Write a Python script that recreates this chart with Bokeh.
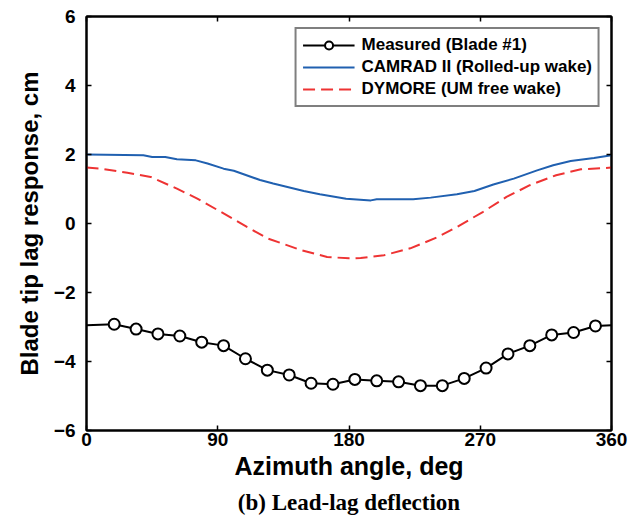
from bokeh.plotting import figure
from bokeh.models import (LinearAxis, FixedTicker, Range1d, Title, Legend, LegendItem,
                          CustomJSTickFormatter)
from bokeh.embed import file_html
from bokeh.resources import INLINE

# Measured (Blade #1)
meas_line_x = [0, 19, 34, 49, 64, 79, 94, 109, 124, 139, 154, 169, 184, 199, 214, 229, 244, 259, 274, 289, 304, 319, 334, 349, 360]
meas_line_y = [-2.95, -2.92, -3.06, -3.20, -3.26, -3.44, -3.54, -3.92, -4.25, -4.39, -4.63, -4.66, -4.52, -4.56, -4.59, -4.70, -4.70, -4.49, -4.19, -3.78, -3.54, -3.23, -3.16, -2.97, -2.95]
meas_x = [19, 34, 49, 64, 79, 94, 109, 124, 139, 154, 169, 184, 199, 214, 229, 244, 259, 274, 289, 304, 319, 334, 349]
meas_y = [-2.92, -3.06, -3.20, -3.26, -3.44, -3.54, -3.92, -4.25, -4.39, -4.63, -4.66, -4.52, -4.56, -4.59, -4.70, -4.70, -4.49, -4.19, -3.78, -3.54, -3.23, -3.16, -2.97]

# CAMRAD II (Rolled-up wake)
cam_x = [0, 39, 45, 54, 62, 75, 83, 94, 101, 119, 128, 149, 160, 178, 195, 199, 224, 236, 254, 266, 279, 293, 309, 320, 332, 348, 360]
cam_y = [2.0, 1.98, 1.93, 1.93, 1.86, 1.83, 1.74, 1.59, 1.53, 1.26, 1.16, 0.94, 0.85, 0.72, 0.67, 0.70, 0.70, 0.75, 0.85, 0.94, 1.13, 1.30, 1.54, 1.69, 1.81, 1.90, 1.98]

# DYMORE (UM free wake)
dym_x = [0, 10, 28, 44, 62, 76, 92, 110, 124, 147, 165, 180, 188, 204, 222, 240, 254, 272, 288, 304, 322, 339, 360]
dym_y = [1.62, 1.59, 1.47, 1.35, 1.01, 0.72, 0.34, -0.10, -0.43, -0.77, -0.97, -1.01, -1.00, -0.92, -0.72, -0.41, -0.10, 0.34, 0.77, 1.11, 1.40, 1.57, 1.62]

x_ticks = [0, 90, 180, 270, 360]
y_ticks = [-6, -4, -2, 0, 2, 4, 6]

p = figure(width=641, height=522, output_backend="svg", toolbar_location=None,
           x_range=Range1d(0, 360), y_range=Range1d(-6, 6),
           min_border_left=86, min_border_right=30, min_border_top=16, min_border_bottom=92)

p.xgrid.visible = False
p.ygrid.visible = False
p.outline_line_color = "black"
p.outline_line_width = 2

FONT = "Liberation Sans"
for ax in (p.xaxis[0], p.yaxis[0]):
    ax.major_tick_in = 5
    ax.major_tick_out = 0
    ax.minor_tick_in = 0
    ax.minor_tick_out = 0
    ax.axis_line_width = 2
    ax.major_tick_line_width = 1.5
    ax.major_label_text_font = FONT
    ax.major_label_text_font_style = "bold"
    ax.major_label_text_font_size = "19px"
    ax.major_label_text_color = "black"
    ax.axis_label_text_font = FONT
    ax.axis_label_text_font_style = "bold"
    ax.axis_label_text_color = "black"

p.xaxis.ticker = FixedTicker(ticks=x_ticks)
p.yaxis.ticker = FixedTicker(ticks=y_ticks)
p.xaxis.axis_label = "Azimuth angle, deg"
p.xaxis.axis_label_text_font_size = "25px"
p.xaxis.axis_label_standoff = 3
p.xaxis.major_label_standoff = 2
p.yaxis.axis_label = "Blade tip lag response, cm"
p.yaxis.axis_label_text_font_size = "24px"
p.yaxis.axis_label_standoff = 8
p.yaxis.major_label_standoff = 11

blank = CustomJSTickFormatter(code="return ''")
top = LinearAxis(ticker=FixedTicker(ticks=x_ticks), formatter=blank,
                 major_tick_in=5, major_tick_out=0, minor_tick_in=0, minor_tick_out=0,
                 axis_line_width=2, major_tick_line_width=1.5, major_label_standoff=0)
right = LinearAxis(ticker=FixedTicker(ticks=y_ticks), formatter=blank,
                   major_tick_in=5, major_tick_out=0, minor_tick_in=0, minor_tick_out=0,
                   axis_line_width=2, major_tick_line_width=1.5, major_label_standoff=0)
p.add_layout(top, "above")
p.add_layout(right, "right")

r_meas_line = p.line(meas_line_x, meas_line_y, line_color="black", line_width=2)
r_meas_pts = p.scatter(meas_x, meas_y, marker="circle", size=11, fill_color="white",
                       line_color="black", line_width=2)
r_cam = p.line(cam_x, cam_y, line_color="#2060b0", line_width=2)
r_dym = p.line(dym_x, dym_y, line_color="#ee3333", line_width=2, line_dash="12 6")

legend = Legend(items=[
    LegendItem(label="Measured (Blade #1)", renderers=[r_meas_line, r_meas_pts]),
    LegendItem(label="CAMRAD II (Rolled-up wake)", renderers=[r_cam]),
    LegendItem(label="DYMORE (UM free wake)", renderers=[r_dym]),
], location="top_right")
legend.label_text_font = FONT
legend.label_text_font_style = "bold"
legend.label_text_font_size = "17px"
legend.label_text_color = "black"
legend.border_line_color = "black"
legend.border_line_width = 2
legend.glyph_width = 52
legend.glyph_height = 20
legend.label_height = 20
legend.spacing = 2
legend.padding = 6
legend.margin = 11
legend.label_standoff = 7
p.add_layout(legend)

cap = Title(text="(b) Lead-lag deflection", align="center", text_font="Liberation Serif",
            text_font_style="bold", text_font_size="23px", text_color="black", offset=-10)
p.add_layout(cap, "below")

open("out.html", "w").write(file_html(p, INLINE))
